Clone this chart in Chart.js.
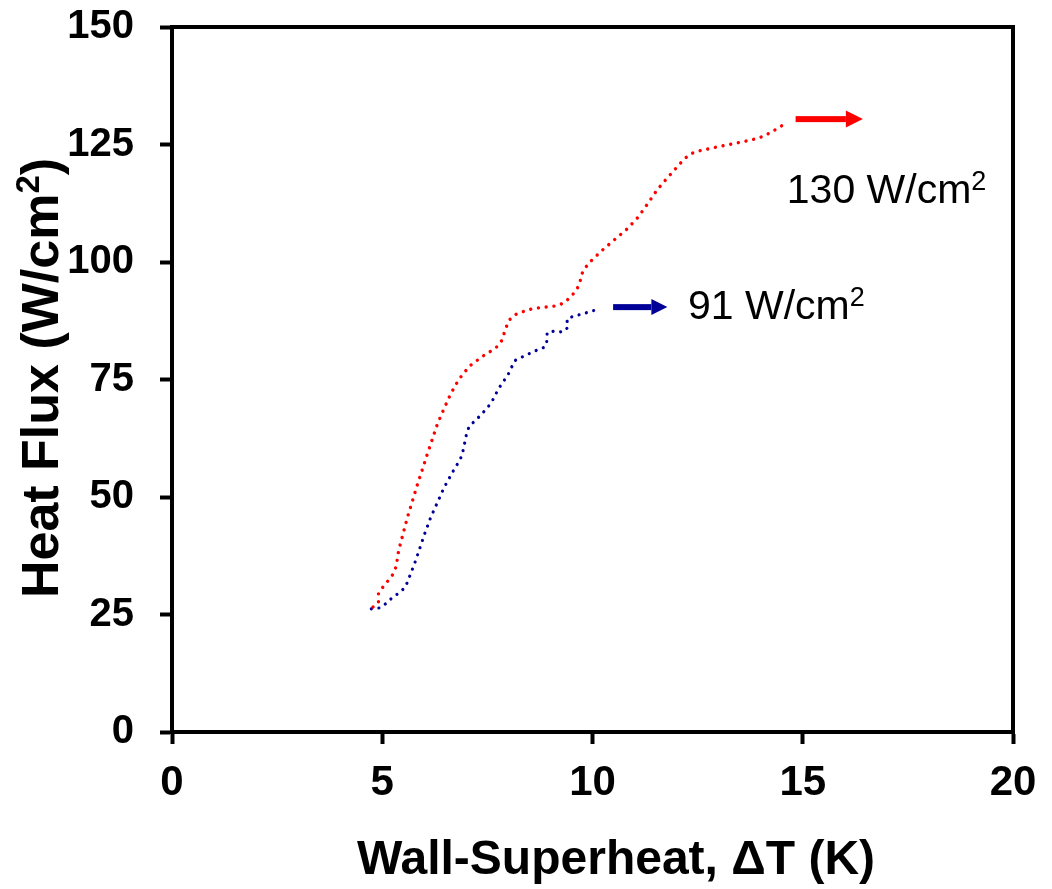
<!DOCTYPE html>
<html>
<head>
<meta charset="utf-8">
<script src="https://cdn.jsdelivr.net/npm/chart.js@4.4.0/dist/chart.umd.min.js"></script>
<style>
  html, body { margin: 0; padding: 0; background: #fff; }
  #wrap { width: 1052px; height: 889px; }
</style>
</head>
<body>
<div id="wrap"><canvas id="c" width="1052" height="889"></canvas></div>
<script>
// ---- Data ----
const xTicks = [0, 5, 10, 15, 20];
const yTicks = [0, 25, 50, 75, 100, 125, 150];

const redX = [4.78,4.91,4.91,5.02,5.14,5.26,5.33,5.39,5.59,5.82,6.06,6.31,6.47,6.63,6.82,7.07,7.38,7.70,7.83,7.96,8.05,8.20,8.58,8.97,9.16,9.34,9.48,9.61,9.70,9.73,9.82,9.95,10.23,10.53,10.83,11.09,11.32,11.54,11.79,12.06,12.19,12.36,12.52,12.92,13.31,13.69,13.88,14.05,14.23,14.41,14.58];
const redY = [26.6,27.6,29.4,30.9,32.2,33.6,35.2,38.6,45.4,52.2,58.8,65.5,68.8,72.0,75.0,77.8,79.9,81.7,83.1,86.4,88.0,89.0,90.1,90.5,90.7,91.4,92.6,93.9,95.5,97.2,98.7,100.1,102.5,104.8,107.1,109.6,112.5,115.4,118.0,120.7,122.0,123.1,123.6,124.4,125.1,125.8,126.2,126.7,127.5,128.5,129.4];

const blueX = [4.74,4.94,5.10,5.24,5.40,5.55,5.62,5.76,5.89,6.01,6.15,6.31,6.47,6.66,6.86,6.92,7.00,7.06,7.19,7.33,7.46,7.59,7.77,7.99,8.15,8.33,8.52,8.69,8.87,8.92,8.92,9.10,9.29,9.42,9.39,9.55,9.74,9.93,10.11];
const blueY = [26.2,26.4,27.4,28.6,29.6,30.8,32.4,35.6,39.0,42.2,45.6,48.8,52.0,55.1,58.1,59.8,63.2,64.9,66.1,67.3,68.6,70.0,73.1,76.0,79.0,79.8,80.6,81.3,81.9,83.3,85.0,85.3,85.1,86.1,87.8,88.5,88.9,89.4,89.9];

// arrows: [xStart, xEnd, y]
const redArrow = [14.83, 16.43, 130.4];
const blueArrow = [10.49, 11.78, 90.4];
// labels: [text, superscript, x (left), y (baseline)]
const redLabel = ["130 W/cm", "2", 14.62, 112.6];
const blueLabel = ["91 W/cm", "2", 12.27, 87.9];

const xTitle = ["Wall-Superheat, \u0394T (K)"];
const yTitle = ["Heat Flux (W/cm", "2", ")"];

const RED = "#ff0000";
const BLUE = "#000099";
const FONT = "'Liberation Sans', Arial, sans-serif";

function pts(xs, ys) { return xs.map((x, i) => ({x: x, y: ys[i]})); }

function drawParts(ctx, parts, x, y, align) {
  let total = 0;
  parts.forEach(p => { ctx.font = p.font; p.w = ctx.measureText(p.t).width; total += p.w; });
  let cx = align === 'center' ? x - total / 2 : x;
  ctx.textAlign = 'left';
  ctx.textBaseline = 'alphabetic';
  parts.forEach(p => { ctx.font = p.font; ctx.fillText(p.t, cx, y + (p.dy || 0)); cx += p.w; });
}

function drawArrow(ctx, x0, x1, y, color, shaft, headH, headL) {
  ctx.save();
  ctx.fillStyle = color;
  ctx.fillRect(x0, y - shaft / 2, (x1 - headL) - x0, shaft);
  ctx.beginPath();
  ctx.moveTo(x1 - headL, y - headH / 2);
  ctx.lineTo(x1, y);
  ctx.lineTo(x1 - headL, y + headH / 2);
  ctx.closePath();
  ctx.fill();
  ctx.restore();
}

const extras = {
  id: 'extras',
  afterDraw(chart) {
    const ctx = chart.ctx;
    const a = chart.chartArea;
    const xs = chart.scales.x, ys = chart.scales.y;
    ctx.save();
    ctx.strokeStyle = '#000';
    ctx.lineWidth = 4;
    ctx.strokeRect(a.left, a.top, a.right - a.left, a.bottom - a.top);

    drawArrow(ctx, xs.getPixelForValue(redArrow[0]), xs.getPixelForValue(redArrow[1]), ys.getPixelForValue(redArrow[2]), RED, 6, 17, 17);
    drawArrow(ctx, xs.getPixelForValue(blueArrow[0]), xs.getPixelForValue(blueArrow[1]), ys.getPixelForValue(blueArrow[2]), BLUE, 6, 16, 16);

    ctx.fillStyle = '#000';
    [redLabel, blueLabel].forEach(l => {
      drawParts(ctx, [
        {t: l[0], font: "41px " + FONT},
        {t: l[1], font: "27px " + FONT, dy: -13}
      ], xs.getPixelForValue(l[2]), ys.getPixelForValue(l[3]), 'left');
    });

    drawParts(ctx, [{t: xTitle[0], font: "bold 48px " + FONT}], 616, 874, 'center');

    ctx.save();
    ctx.translate(58, 378);
    ctx.rotate(-Math.PI / 2);
    drawParts(ctx, [
      {t: yTitle[0], font: "bold 52px " + FONT},
      {t: yTitle[1], font: "bold 33px " + FONT, dy: -19},
      {t: yTitle[2], font: "bold 52px " + FONT}
    ], 0, 0, 'center');
    ctx.restore();

    ctx.restore();
  }
};

new Chart(document.getElementById('c'), {
  type: 'scatter',
  data: {
    datasets: [
      {
        data: pts(redX, redY),
        showLine: true,
        borderColor: RED,
        borderWidth: 3.4,
        borderDash: [0.01, 7.8],
        borderCapStyle: 'round',
        pointRadius: 0,
        tension: 0
      },
      {
        data: pts(blueX, blueY),
        showLine: true,
        borderColor: BLUE,
        borderWidth: 3.2,
        borderDash: [0.01, 7.6],
        borderCapStyle: 'round',
        pointRadius: 0,
        tension: 0
      }
    ]
  },
  options: {
    responsive: false,
    animation: false,
    events: [],
    layout: { padding: { left: 0, right: 39, top: 27, bottom: 0 } },
    plugins: { legend: { display: false }, tooltip: { enabled: false } },
    scales: {
      x: {
        type: 'linear',
        min: 0, max: 20,
        afterBuildTicks: s => { s.ticks = xTicks.map(v => ({value: v})); },
        afterFit: s => { s.height = 157; s.paddingLeft = 0; s.paddingRight = 0; s.paddingTop = 0; s.paddingBottom = 0; },
        ticks: { color: '#000', font: { family: FONT, size: 42, weight: 'bold' }, padding: 14, maxRotation: 0 },
        grid: { display: true, drawOnChartArea: false, drawTicks: true, tickLength: 12, tickWidth: 4, tickColor: '#000' },
        border: { display: true, color: '#000', width: 4 }
      },
      y: {
        type: 'linear',
        min: 0, max: 150,
        afterBuildTicks: s => { s.ticks = yTicks.map(v => ({value: v})); },
        afterFit: s => { s.width = 172; s.paddingLeft = 0; s.paddingRight = 0; s.paddingTop = 0; s.paddingBottom = 0; },
        ticks: { color: '#000', font: { family: FONT, size: 40, weight: 'bold' }, padding: 26 },
        grid: { display: true, drawOnChartArea: false, drawTicks: true, tickLength: 12, tickWidth: 4, tickColor: '#000' },
        border: { display: true, color: '#000', width: 4 }
      }
    }
  },
  plugins: [extras]
});
</script>
</body>
</html>
